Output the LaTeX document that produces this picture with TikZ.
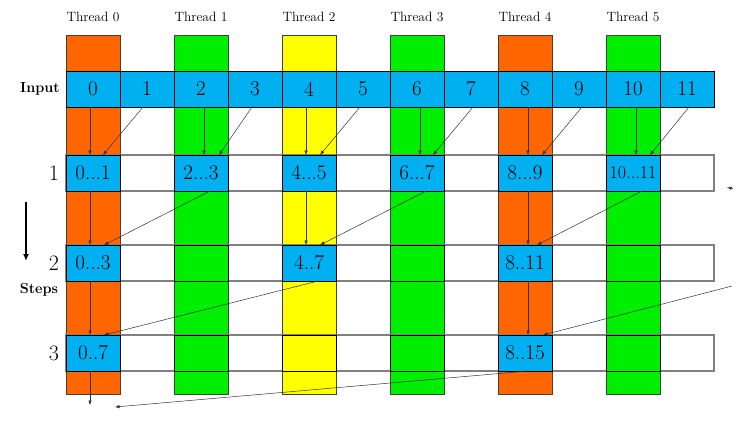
\documentclass[tikz,border=0pt]{standalone}
\usetikzlibrary{arrows.meta,calc}
\definecolor{corange}{RGB}{255,102,0}
\definecolor{cgreen}{RGB}{0,238,0}
\definecolor{cyellow}{RGB}{255,255,0}
\definecolor{cblue}{RGB}{0,176,240}
\begin{document}
\begin{tikzpicture}[x=1pt,y=-1pt,
  cell/.style={draw=black, line width=0.6pt, minimum width=54pt, minimum height=36pt, inner sep=0pt, outer sep=0pt},
  numcell/.style={cell, fill=cblue, font=\fontsize{21}{21}\selectfont},
  column/.style={draw=black!75, line width=0.6pt, minimum width=54pt, minimum height=359pt, inner sep=0pt, outer sep=0pt},
  rowbox/.style={draw=black!50, line width=1.2pt, minimum width=648pt, minimum height=36pt, inner sep=0pt, outer sep=0pt},
  thlabel/.style={font=\fontsize{13.5}{13.5}\selectfont},
  rowlabel/.style={font=\fontsize{22}{22}\selectfont},
  side/.style={font=\bfseries\fontsize{14.5}{14.5}\selectfont},
  arr/.style={draw=black!80, line width=0.5pt, -{Latex[length=4.5pt,width=3.5pt]}},
]
\useasboundingbox (0,0) rectangle (749,421);
\fill[white] (0,0) rectangle (749,421);

% thread columns
\node[column, fill=corange] (t0) at (93,214.5) {};
\node[column, fill=cgreen]  (t1) at (201,214.5) {};
\node[column, fill=cyellow] (t2) at (309,214.5) {};
\node[column, fill=cgreen]  (t3) at (417,214.5) {};
\node[column, fill=corange] (t4) at (525,214.5) {};
\node[column, fill=cgreen]  (t5) at (633,214.5) {};
\foreach \k in {0,...,5}{
  \node[thlabel] (tl\k) at (93+108*\k,17) {Thread \k};
}

% step rows
\node[rowbox] (row1) at (390,173) {};
\node[rowbox] (row2) at (390,263) {};
\node[rowbox] (row3) at (390,353) {};

% input row
\foreach \i in {0,...,11}{
  \node[numcell] (in\i) at (93+54*\i,89) {\i};
}

% row 1 values
\node[numcell] (r1c0)  at (93,173)  {0...1};
\node[numcell] (r1c2)  at (201,173) {2...3};
\node[numcell] (r1c4)  at (309,173) {4...5};
\node[numcell] (r1c6)  at (417,173) {6...7};
\node[numcell] (r1c8)  at (525,173) {8...9};
\node[numcell, font=\fontsize{18}{18}\selectfont] (r1c10) at (633,173) {10...11};

% row 2
\node[numcell] (r2c0) at (93,263)  {0...3};
\node[cell, fill=cgreen] (r2c2) at (201,263) {};
\node[numcell] (r2c4) at (309,263) {4..7};
\node[cell, fill=cgreen] (r2c6) at (417,263) {};
\node[numcell] (r2c8) at (525,263) {8..11};
\node[cell, fill=cgreen] (r2c10) at (633,263) {};

% row 3
\node[numcell] (r3c0) at (93,353)  {0..7};
\node[cell, fill=cgreen] (r3c2) at (201,353) {};
\node[cell, fill=cyellow] (r3c4) at (309,353) {};
\node[cell, fill=cgreen] (r3c6) at (417,353) {};
\node[numcell] (r3c8) at (525,353) {8..15};
\node[cell, fill=cgreen] (r3c10) at (633,353) {};

% labels
\node[side] (inl) at (40,89) {Input};
\node[side] (stl) at (39,290) {Steps};
\node[rowlabel] (l1) at (54,173) {1};
\node[rowlabel] (l2) at (54,263) {2};
\node[rowlabel] (l3) at (54,353) {3};
\coordinate (sd1) at (26,202);
\coordinate (sd2) at (26,261);
\draw[line width=1.6pt, -{Latex[length=7pt,width=6pt]}] (sd1) -- (sd2);

% input -> step 1
\draw[arr] ($(in0.south west)+(24,0)$)  -- ($(r1c0.north west)+(24,0)$);
\draw[arr] ($(in1.south west)+(23,0)$)  -- ($(r1c0.north west)+(37,0)$);
\draw[arr] ($(in2.south west)+(30,0)$)  -- ($(r1c2.north west)+(30,0)$);
\draw[arr] ($(in3.south west)+(24,0)$)  -- ($(r1c2.north west)+(45,0)$);
\draw[arr] ($(in4.south west)+(24,0)$)  -- ($(r1c4.north west)+(24,0)$);
\draw[arr] ($(in5.south west)+(24,0)$)  -- ($(r1c4.north west)+(38,0)$);
\draw[arr] ($(in6.south west)+(30,0)$)  -- ($(r1c6.north west)+(30,0)$);
\draw[arr] ($(in7.south west)+(29,0)$)  -- ($(r1c6.north west)+(43,0)$);
\draw[arr] ($(in8.south west)+(30,0)$)  -- ($(r1c8.north west)+(30,0)$);
\draw[arr] ($(in9.south west)+(30,0)$)  -- ($(r1c8.north west)+(44,0)$);
\draw[arr] ($(in10.south west)+(30,0)$) -- ($(r1c10.north west)+(30,0)$);
\draw[arr] ($(in11.south west)+(29,0)$) -- ($(r1c10.north west)+(44,0)$);

% step 1 -> step 2
\draw[arr] ($(r1c0.south west)+(24,0)$)  -- ($(r2c0.north west)+(24,0)$);
\draw[arr] ($(r1c2.south west)+(36,0)$)  -- ($(r2c0.north west)+(38,0)$);
\draw[arr] ($(r1c4.south west)+(24,0)$)  -- ($(r2c4.north west)+(24,0)$);
\draw[arr] ($(r1c6.south west)+(36,0)$)  -- ($(r2c4.north west)+(38,0)$);
\draw[arr] ($(r1c8.south west)+(30,0)$)  -- ($(r2c8.north west)+(30,0)$);
\draw[arr] ($(r1c10.south west)+(36,0)$) -- ($(r2c8.north west)+(39,0)$);

% step 2 -> step 3
\coordinate (src) at (732,286);
\draw[arr] ($(r2c0.south west)+(24,0)$) -- ($(r3c0.north west)+(24,0)$);
\draw[arr] ($(r2c4.south west)+(36,0)$) -- ($(r3c0.north west)+(38,0)$);
\draw[arr] ($(r2c8.south west)+(30,0)$) -- ($(r3c8.north west)+(30,0)$);
\draw[arr] (src) -- ($(r3c8.north west)+(45,0)$);

% step 3 -> out
\coordinate (o1) at (90,405);
\coordinate (o2) at (115,407);
\draw[arr] ($(r3c0.south west)+(24,0)$) -- (o1);
\draw[arr] ($(r3c8.south west)+(30,0)$) -- (o2);

% stray tip
\coordinate (sa) at (733,188.5);
\coordinate (sb) at (727,187.5);
\draw[arr] (sa) -- (sb);
\end{tikzpicture}
\end{document}
